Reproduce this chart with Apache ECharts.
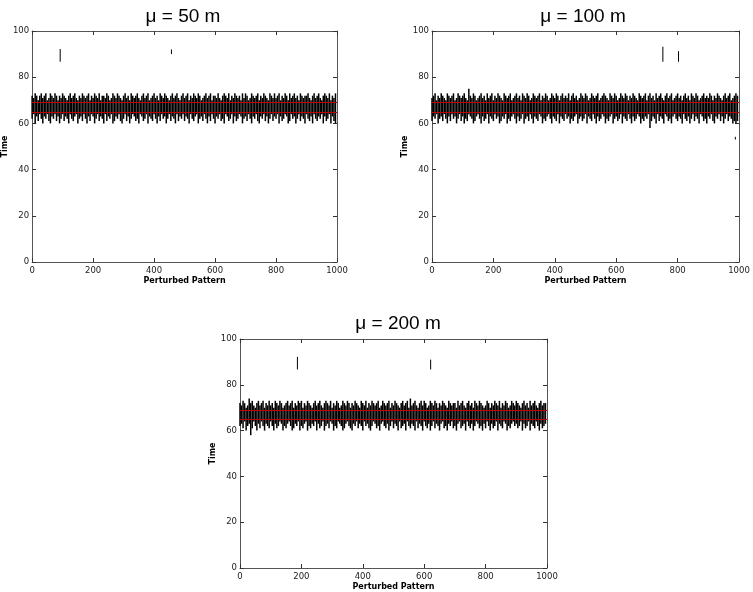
<!DOCTYPE html>
<html>
<head>
<meta charset="utf-8">
<script src="https://cdn.jsdelivr.net/npm/echarts@6/dist/echarts.min.js"></script>
<style>
  html, body { margin: 0; padding: 0; background: #fff; }
  #main { width: 753px; height: 592px; }
</style>
</head>
<body>
<div id="main"></div>
<script>
// 每个扰动模式的时间范围(最小/最大), 每 5 个模式取一个
var step = 5;
var titles = ['μ = 50 m', 'μ = 100 m', 'μ = 200 m'];

var hi50 = [72,71,73,72,70,72,73,71,72,73,70,71,73,72,71,73,72,70,72,71,
  73,72,71,70,72,73,71,72,73,71,70,72,71,73,72,71,72,73,70,72,
  71,73,72,71,73,70,72,72,71,73,72,70,71,73,72,71,73,72,71,70,
  72,73,71,72,70,73,72,71,72,73,71,70,72,73,71,72,73,70,71,72,
  73,71,72,70,73,72,71,73,72,71,70,72,73,71,72,73,71,70,72,73,
  71,72,73,70,72,71,73,72,71,73,72,70,71,72,73,71,72,73,70,72,
  72,71,73,71,70,72,73,72,71,73,70,72,71,73,72,71,72,70,73,71,
  73,72,70,71,73,72,71,72,73,70,72,71,73,72,71,70,73,72,71,73,
  71,72,73,70,72,71,73,72,70,73,71,72,73,71,72,70,73,72,71,72,
  72,73,71,70,72,73,71,72,73,71,70,72,73,72,71,73,70,72,71,73];
var lo50 = [62,64,60,63,61,64,62,60,63,62,64,61,60,63,62,64,61,63,60,62,
  64,61,63,62,60,64,62,61,63,64,60,62,63,61,64,62,60,63,61,64,
  63,60,62,64,61,63,62,60,64,61,63,62,64,60,61,63,62,64,61,60,
  62,64,61,63,60,62,64,63,61,62,60,64,63,61,62,64,60,63,62,61,
  64,62,60,63,61,64,62,63,60,62,64,61,63,62,60,64,61,63,62,64,
  61,63,62,60,64,62,61,63,64,60,62,63,61,64,62,60,63,61,64,62,
  60,63,62,64,61,62,60,64,63,61,62,64,60,63,61,62,64,63,60,62,
  63,61,64,62,60,63,62,64,61,60,63,62,64,61,63,60,62,64,61,63,
  62,64,60,63,61,62,64,63,60,61,64,62,63,60,62,64,61,63,62,60,
  64,62,61,63,60,64,62,61,63,62,64,60,63,61,62,64,60,63,61,60];

var hi100 = [71,72,73,70,72,71,73,72,71,70,73,72,71,72,73,70,71,73,72,71,
  72,73,71,70,75,72,71,73,72,70,71,72,73,71,72,70,73,71,72,73,
  70,72,71,73,72,71,70,73,72,71,72,73,70,71,72,73,71,72,70,73,
  72,71,73,72,70,71,73,72,71,72,73,70,72,71,73,72,70,71,73,72,
  71,73,72,70,72,73,71,72,71,73,70,72,73,71,72,70,71,73,72,71,
  73,72,70,71,73,72,71,72,73,70,71,72,73,72,71,70,73,72,71,73,
  72,70,71,73,72,71,73,72,70,72,71,73,72,71,70,73,72,71,72,73,
  70,72,73,71,72,70,73,71,72,73,71,70,72,73,71,72,73,70,71,72,
  73,71,72,70,72,73,71,72,70,73,72,71,73,72,70,71,72,73,71,72,
  71,73,72,70,72,71,73,72,71,70,72,73,71,72,73,70,71,72,73,72];
var lo100 = [61,63,62,64,60,62,63,61,64,62,60,63,61,64,62,63,60,62,64,61,
  63,60,62,61,64,63,62,60,61,63,64,62,60,63,61,62,64,60,63,62,
  61,64,62,63,60,61,63,62,64,60,62,61,63,64,62,60,63,61,62,64,
  60,62,63,61,64,62,60,63,62,61,64,63,60,62,61,63,64,62,60,63,
  62,61,64,60,63,62,61,64,62,63,60,62,61,63,64,60,62,63,61,62,
  64,60,63,62,61,64,62,60,63,61,62,64,63,60,62,61,63,64,60,62,
  63,61,62,64,60,63,62,61,64,62,60,63,61,62,64,63,60,62,61,63,
  62,64,58,61,63,62,60,64,61,63,62,60,64,63,61,62,60,63,64,62,
  61,63,62,60,64,62,61,63,60,62,64,61,63,62,60,64,63,61,62,60,
  63,62,64,61,60,63,62,64,61,63,60,62,64,61,63,62,60,61,60,61];

var hi200 = [72,71,73,72,70,71,74,72,73,71,70,72,73,71,72,73,70,72,71,73,
  71,72,70,73,72,71,73,72,70,71,72,73,71,72,73,70,72,71,73,72,
  73,70,72,71,73,72,71,70,72,73,71,72,73,71,70,72,73,72,71,73,
  70,72,71,73,72,70,71,73,72,71,73,72,70,72,71,73,72,71,70,73,
  72,71,73,70,72,71,73,72,71,72,73,70,71,73,72,71,72,73,70,72,
  71,73,72,71,70,72,73,71,72,73,70,74,71,72,73,71,70,72,73,71,
  73,72,70,71,73,72,71,73,72,70,72,71,73,72,71,70,73,72,71,72,
  72,70,73,71,72,73,71,70,72,73,71,72,70,73,72,71,73,72,71,70,
  71,73,72,70,72,71,73,72,71,73,70,72,71,73,72,70,71,73,72,71,
  73,72,71,70,72,73,71,72,70,73,71,72,73,71,70,72,73,71,72,72];
var lo200 = [62,63,61,64,60,62,63,58,61,64,62,60,63,61,64,62,60,63,62,61,
  64,62,60,63,61,62,64,63,60,62,61,63,64,62,60,61,63,62,64,60,
  62,61,63,64,60,62,61,63,62,64,60,63,61,62,64,60,62,63,61,64,
  63,60,62,61,64,63,62,60,61,63,64,62,61,60,63,62,64,61,63,62,
  60,64,62,63,61,60,62,64,63,61,62,60,63,64,62,61,63,60,62,64,
  61,63,62,60,64,61,62,63,60,64,62,61,63,62,60,64,61,63,62,60,
  64,62,61,63,60,62,64,61,63,62,60,63,64,61,62,60,63,62,64,61,
  62,60,63,64,61,62,63,60,64,62,61,63,60,62,64,63,61,62,60,63,
  61,64,62,60,63,61,62,64,60,63,62,61,64,63,60,62,61,63,64,62,
  63,61,62,64,60,63,61,62,64,60,63,62,61,64,62,60,63,61,62,63];

// 离群模式 [模式, 最小, 最大]
var spikes50 = [[92, 86.7, 92.2], [457, 90, 92]];
var spikes100 = [[752, 86.7, 93.2], [803, 86.7, 91.3], [988, 53, 54.2]];
var spikes200 = [[187, 86.7, 92.2], [621, 86.7, 91]];

// 均值 ± 标准差 (红线)
var band50 = [65, 69];
var band100 = [65, 69];
var band200 = [65, 69.1];

var grids = [
    {left: 30, top: 31, width: 307, height: 231},
    {left: 432, top: 31, width: 307, height: 231},
    {left: 240, top: 339, width: 307, height: 231}
];
var titlePos = [[178, 2], [578, 2], [393, 309]];

var panels = [
    {lo: lo50, hi: hi50, spikes: spikes50, band: band50},
    {lo: lo100, hi: hi100, spikes: spikes100, band: band100},
    {lo: lo200, hi: hi200, spikes: spikes200, band: band200}
];

var chart = echarts.init(document.getElementById('main'));

function $extend(a, b) {
    var o = {};
    for (var k in a) o[k] = a[k];
    for (var k2 in b) o[k2] = b[k2];
    return o;
}

var tickFont = {fontFamily: 'DejaVu Sans', fontSize: 8.5, color: '#222', formatter: function (v) { return String(v); }};
var frame = {show: true, onZero: false, lineStyle: {color: '#555', width: 1}};
var tick = {show: true, inside: true, length: 4, lineStyle: {color: '#333'}};
var nameFont = {fontFamily: 'DejaVu Sans', fontSize: 8, fontWeight: 'bold', color: '#000'};

// 竖线: 从最小值画到最大值
function rangeRenderer(width) {
    return function (params, api) {
        var p1 = api.coord([api.value(0), api.value(1)]);
        var p2 = api.coord([api.value(0), api.value(2)]);
        return {
            type: 'line',
            shape: {x1: p1[0], y1: p1[1], x2: p2[0], y2: p2[1]},
            style: {stroke: '#000', lineWidth: width}
        };
    };
}

var xAxis = [], yAxis = [], series = [], title = [];

panels.forEach(function (p, i) {
    title.push({
        text: titles[i],
        left: titlePos[i][0],
        top: titlePos[i][1],
        textAlign: 'center',
        textStyle: {fontFamily: 'Liberation Sans', fontSize: 19, fontWeight: 'normal', color: '#000'}
    });

    xAxis.push({
        type: 'value', gridIndex: i, position: 'bottom', min: 0, max: 1000, interval: 200,
        name: 'Perturbed Pattern', nameLocation: 'middle', nameGap: 15, nameTextStyle: nameFont,
        axisLine: frame, axisTick: tick, splitLine: {show: false},
        axisLabel: $extend(tickFont, {margin: 4})
    });
    xAxis.push({
        type: 'value', gridIndex: i, position: 'top', min: 0, max: 1000, interval: 200,
        axisLine: frame, axisTick: tick, splitLine: {show: false}, axisLabel: {show: false}
    });
    yAxis.push({
        type: 'value', gridIndex: i, position: 'left', min: 0, max: 100, interval: 20,
        name: 'Time', nameLocation: 'middle', nameGap: 18, nameTextStyle: nameFont,
        axisLine: frame, axisTick: tick, splitLine: {show: false},
        axisLabel: $extend(tickFont, {margin: 3})
    });
    yAxis.push({
        type: 'value', gridIndex: i, position: 'right', min: 0, max: 100, interval: 20,
        axisLine: frame, axisTick: tick, splitLine: {show: false}, axisLabel: {show: false}
    });

    var data = [];
    var n = Math.min(p.lo.length, p.hi.length);
    for (var k = 0; k < n; k++) {
        data.push([k * step, p.lo[k], p.hi[k]]);
    }

    series.push({
        type: 'custom',
        xAxisIndex: i * 2,
        yAxisIndex: i * 2,
        renderItem: rangeRenderer(1.5),
        encode: {x: 0, y: [1, 2]},
        data: data,
        silent: true,
        markLine: {
            silent: true,
            symbol: 'none',
            label: {show: false},
            lineStyle: {color: '#c00000', type: 'solid', width: 1},
            data: p.band.map(function (v) { return {yAxis: v}; })
        }
    });
    series.push({
        type: 'custom',
        xAxisIndex: i * 2,
        yAxisIndex: i * 2,
        renderItem: rangeRenderer(1),
        encode: {x: 0, y: [1, 2]},
        data: p.spikes,
        silent: true
    });
});

chart.setOption({
    animation: false,
    backgroundColor: '#fff',
    title: title,
    grid: grids,
    xAxis: xAxis,
    yAxis: yAxis,
    series: series
});
</script>
</body>
</html>
